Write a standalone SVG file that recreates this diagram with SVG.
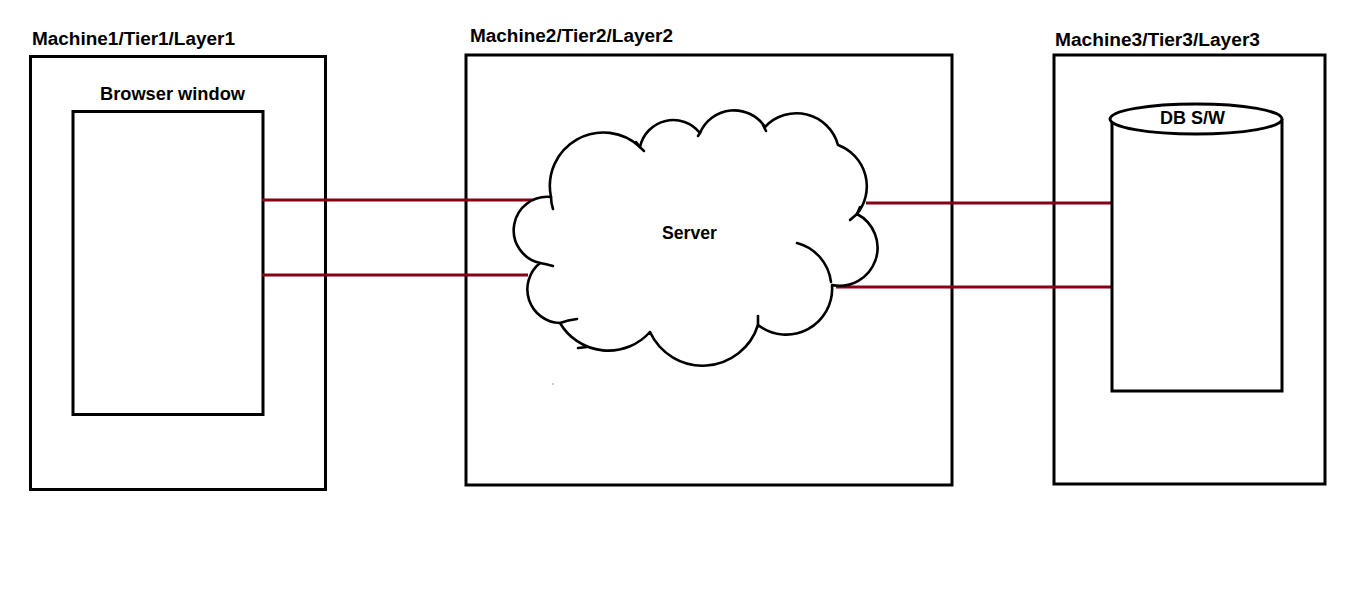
<svg xmlns="http://www.w3.org/2000/svg" width="1360" height="594" viewBox="0 0 1360 594">
<style>
  .box{fill:#fff;stroke:#000;stroke-width:3}
  .lbl{font-family:"Liberation Sans",Arial,sans-serif;font-weight:bold;font-size:17.5px;fill:#000}
  .cloud{fill:#fff;stroke:#000;stroke-width:2.6;stroke-linecap:round;stroke-linejoin:round}
  .tick{fill:none;stroke:#000;stroke-width:2.6;stroke-linecap:round}
  .link{stroke:#880015;stroke-width:3;fill:none}
</style>
<rect width="1360" height="594" fill="#fff"/>
<g id="machine1">
  <rect class="box" x="30.5" y="56.5" width="295" height="433"/>
  <text class="lbl" x="32" y="45" textLength="203" lengthAdjust="spacingAndGlyphs">Machine1/Tier1/Layer1</text>
</g>
<g id="browser">
  <rect class="box" x="73" y="111.5" width="190" height="303"/>
  <text class="lbl" x="100" y="100" textLength="145" lengthAdjust="spacingAndGlyphs">Browser window</text>
</g>
<g id="machine2">
  <rect class="box" x="466" y="55" width="486" height="430"/>
  <text class="lbl" x="470" y="42" textLength="203" lengthAdjust="spacingAndGlyphs">Machine2/Tier2/Layer2</text>
</g>
<g id="machine3">
  <rect class="box" x="1054" y="55" width="271" height="429"/>
  <text class="lbl" x="1055" y="46" textLength="205" lengthAdjust="spacingAndGlyphs">Machine3/Tier3/Layer3</text>
</g>
<g id="connectors">
  <line class="link" x1="262" y1="200" x2="537" y2="200"/>
  <line class="link" x1="262" y1="275" x2="528" y2="275"/>
  <line class="link" x1="866" y1="203" x2="1112" y2="203"/>
  <line class="link" x1="836" y1="287" x2="1115" y2="287"/>
</g>
<g id="server">
  <path class="cloud" d="M 551,197 A 53.5 53.5 0 0 1 640,147 A 34 34 0 0 1 700,133 A 37 37 0 0 1 765,127 A 43 43 0 0 1 838,145 A 44 44 0 0 1 857,214 A 38 38 0 0 1 832,285 A 46 46 0 0 1 758,325 A 58 58 0 0 1 650,332 A 56 56 0 0 1 560,323 A 33.7 33.7 0 0 1 540,263 A 33.5 33.5 0 0 1 551,197 Z"/>
  <path class="tick" d="M 551,197 Q 551,203 553,209"/>
  <path class="tick" d="M 540,263 Q 546,264 553,266"/>
  <path class="tick" d="M 636,142 Q 640,148 644,151"/>
  <path class="tick" d="M 763,125 Q 765,129 766,131"/>
  <path class="tick" d="M 700,133 L 698,136"/>
  <path class="tick" d="M 857,214 L 850,220"/>
  <path class="tick" d="M 857,214 L 860,207"/>
  <path class="tick" d="M 797,243 A 46 46 0 0 1 831,282"/>
  <path class="tick" d="M 758,316 L 758,326"/>
  <path class="tick" d="M 560,323 Q 568,320 577,319"/>
  <path class="tick" d="M 578,348 L 587,347"/>
  <circle cx="553" cy="384" r="0.8" fill="#888"/>
  <text class="lbl" x="662" y="239" textLength="55" lengthAdjust="spacingAndGlyphs">Server</text>
</g>
<g id="db">
  <path class="box" d="M 1112,119 L 1112,391 L 1282,391 L 1282,119"/>
  <ellipse cx="1196" cy="119" rx="86" ry="15" fill="#fff" stroke="#000" stroke-width="3"/>
  <text class="lbl" x="1160" y="124" textLength="65" lengthAdjust="spacingAndGlyphs">DB S/W</text>
</g>
</svg>
